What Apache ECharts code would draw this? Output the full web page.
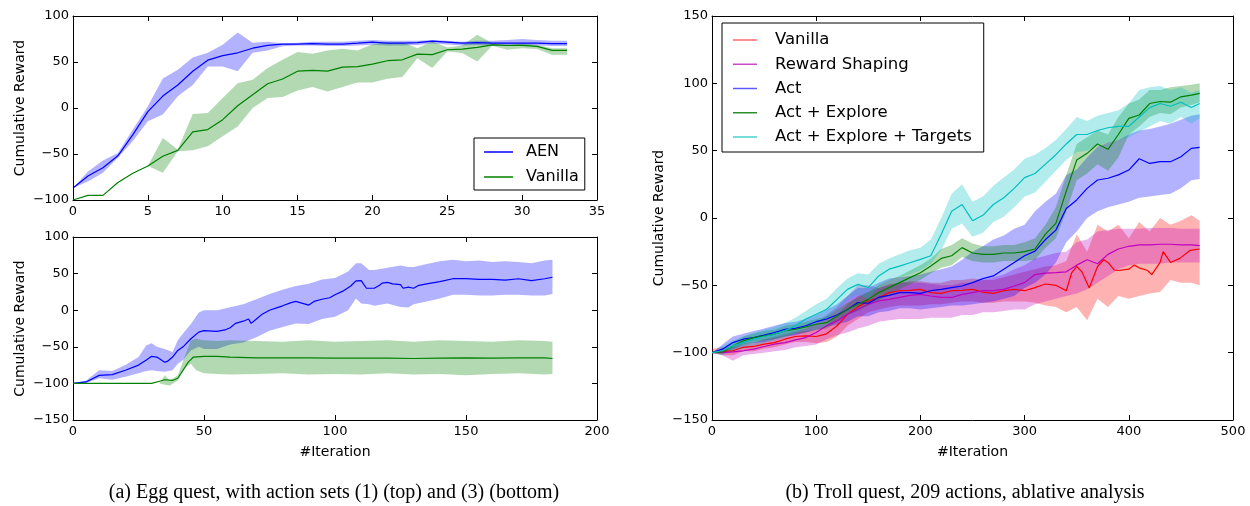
<!DOCTYPE html>
<html>
<head>
<meta charset="utf-8">
<script src="https://cdn.jsdelivr.net/npm/echarts@6/dist/echarts.min.js"></script>
<style>
html,body{margin:0;padding:0;background:#fff;}
#c{width:1250px;height:506px;}
</style>
</head>
<body>
<div id="c"></div>
<script>
// ---------- (a) top: Egg quest, action set (1) ----------
const eggTopX = [0,1,2,3,4,5,6,7,8,9,10,11,12,13,14,15,16,17,18,19,20,21,22,23,24,25,26,27,28,29,30,31,32,33];
const aenTop   = [-87,-74,-65,-52,-29,-4,13,25,40,52,57,60,65,68,69.5,69.5,70,69.5,69.5,70.5,71.6,70.5,70.5,71,72.7,71.6,70.5,71,70.5,70.5,70.5,70.5,70,70];
const aenTopHi = [-87,-69,-57,-49,-23.5,2,32,41.6,55,60,68.7,82,71,72,70.5,71,72,72,72,73,74,73,73,73,74,73,72,73,73,74,75,74,73,73];
const aenTopLo = [-87,-80,-70.5,-54,-36,-14.5,-7,12.7,25,45,45,40,60,62.5,67,68,68,67.5,67.5,68,68.7,68,68,68.5,70,69,68,68.5,68,68,68,68,67.5,67.5];
const vanTop   = [-100,-95,-95,-81,-71,-63,-52.5,-46,-26,-23.5,-12.7,2.5,14.5,26.4,31.5,40,41,40,44.5,45,47.7,51.4,52.4,58.6,58,63.3,64,65.8,68.7,68,68,67,62.6,62.6];
const vanTopHi = [-100,-95,-95,-81,-71,-63,-32.5,-45,-6.5,-5.4,11,27,30.7,43.4,52.4,61,59,62.6,64.4,62.6,69.4,71.6,71.6,65,72.3,65.8,68,79.6,70.5,68,70.5,68.5,65,65];
const vanTopLo = [-100,-95,-95,-81,-71,-63,-70.5,-47,-46,-41.6,-30.7,-20,0,11,12,19,22.8,18,22.8,27.8,27.8,31.8,33.6,54,43.4,61.5,59.7,50.6,67.6,63.3,65,64,58,58];

// ---------- (a) bottom: Egg quest, action set (3) ----------
const aenBotX = [0,5,10,15,20,25,28,30,32,35,36,38,40,42,45,48,50,55,58,60,62,65,67,68,70,72,75,78,80,83,85,88,90,92,95,98,100,103,106,108,110,112,115,117,118,120,122,125,126,128,130,132,135,140,145,150,155,160,165,170,175,180,183];
const aenBot  = [-100,-98,-89,-88,-82,-75,-68,-63,-64,-71,-70,-64,-55,-50,-39,-30,-28,-29,-27,-24,-18,-15,-12,-18,-12,-6,0,3.6,6,10,12,9,7,12,15,17,21,26,33,40,40.5,30,30,34,37,38,36,35,30,31.5,30,34,36,39,43,43,42,42,41,43,40.5,43,45];
const aenBotBandX = [0,5,10,15,20,25,28,30,32,35,38,40,42,45,48,50,55,60,65,70,75,80,85,90,95,100,105,108,110,113,115,120,125,128,130,135,140,145,150,155,160,165,170,175,180,183];
const aenBotHi = [-100,-96,-82,-83,-75,-64,-48,-45,-50,-53,-57,-41,-32,-19,-3,0,0,4,8,15,22,28,33,36,42,44,53,64,64,55,55,58,61,59,59,63,67,69,67,68,66,67,66,64,68,69];
const aenBotLo = [-100,-99.5,-93,-95,-91,-86,-83,-82,-83,-84,-82,-73,-68,-55,-50,-53,-53,-47,-44,-37,-28,-23,-18,-19,-12,-9,0,16,9,8,6,9,4.5,3.6,8,12,16,21,21,20,20,21,21,20,20,22];
const vanBotX = [0,30,33,35,38,40,42,44,46,50,55,60,70,80,90,100,110,120,130,140,150,160,170,180,183];
const vanBot  = [-100,-100,-97,-95,-96,-93,-82,-71,-64,-63,-63,-64,-65,-65,-65,-65.5,-65.5,-65.5,-66,-65.5,-65,-65.5,-65,-65,-66];
const vanBotBandX = [0,33,35,37,40,43,45,47,50,55,60,70,80,90,100,110,120,130,140,150,160,170,180,183];
const vanBotHi = [-100,-100,-89,-96,-89,-60,-41,-39,-41,-42,-41,-42,-43,-41,-43,-42,-41,-43,-41,-42,-43,-41,-42,-43];
const vanBotLo = [-100,-100,-102,-103,-96,-78,-73,-82,-86,-87,-88,-87,-86,-88,-87,-88,-86,-88,-87,-89,-87,-86,-88,-87];

// ---------- (b) Troll quest ----------
const trollX = [0,10,20,30,40,50,60,70,80,90,100,110,120,130,140,150,160,170,180,190,200,210,220,230,240,250,260,270,280,290,300,310,320,330,340,350,360,370,380,390,400,410,420,430,440,450,460,468];
const vanillaX = [0,10,20,30,40,50,60,70,80,90,100,110,120,130,140,150,160,170,180,190,200,210,220,230,240,250,260,270,280,290,300,310,320,330,340,345,350,355,362,370,376,380,386,390,400,405,410,418,422,430,433,440,449,459,468];
const vanilla = [-100,-99,-98.6,-96,-95.4,-93.7,-92.5,-90,-88,-87.5,-88,-86,-80,-71.5,-66,-61.6,-59,-55.4,-54,-53.7,-53,-55.4,-56,-54,-53.7,-53,-55,-56,-54,-53,-54,-51.7,-49,-50,-54,-41,-36,-40,-52,-36,-31,-33,-38.6,-39,-38,-35,-37,-39,-42,-33,-25,-33,-30,-24,-23];
const vanillaHi = [-97,-96,-95,-93,-92,-90,-89,-87,-85,-84,-83,-80,-72,-64,-58,-55,-52,-49,-48,-47,-47,-48,-48,-46,-46,-45,-46,-46,-44,-42,-40,-38,-36,-35,-32,-12,-25,-5,-10,-5,-15,-3,-10,0,-5,-2,2,-2];
const vanillaLo = [-100,-102,-102,-99,-99,-97,-96,-94,-92,-92,-93,-92,-88,-80,-75,-70,-68,-66,-65,-65,-65,-64,-64,-63,-62,-62,-63,-63,-62,-62,-62,-63,-65,-66,-70,-66,-76,-60,-66,-58,-60,-58,-56,-55,-46,-48,-48,-50];
const shaping = [-100,-100,-99.4,-98.6,-97.4,-95.4,-93.7,-92.5,-90.5,-88.8,-85,-80,-76.4,-71.5,-67.8,-64,-61.6,-60.4,-59,-57.4,-56.7,-57.9,-59,-59,-56.7,-55.4,-54,-54,-53,-50.5,-48,-42,-41,-40.6,-40,-35,-31,-34,-27,-23,-21,-20,-20,-19.5,-19.5,-20,-20,-20.5];
const shapingHi = [-100,-98,-96,-95,-93,-90,-88,-86,-84,-82,-78,-72,-66,-58,-50,-50,-52,-50,-48,-48,-48,-49,-50,-50,-48,-48,-46,-44,-42,-38,-35,-30,-28,-26,-25,-18,-16,-10,-9,-8,-8,-8,-7.5,-7.5,-7.5,-8,-8,-8];
const shapingLo = [-100,-102,-106,-102,-101,-100,-99,-98,-96,-95,-94,-90,-87,-85,-82,-80,-77,-76,-75,-75,-75,-74,-74,-74,-72,-72,-70,-70,-69,-68,-68,-64,-62,-60,-58,-56,-53,-48,-43,-38,-35,-34,-34,-34,-33,-33,-33,-33];
const act = [-100,-97.4,-92.5,-90,-88.8,-87,-85,-82.6,-82,-80,-77,-75,-72,-68,-62.8,-63.3,-59,-57.4,-55.4,-55.4,-56,-54,-53,-51.7,-50.5,-48,-45,-43,-38,-33,-28,-24.6,-16,-9,7,13.4,22,28.2,29.5,32,35.6,44,40.5,41.8,41.8,45.5,51.7,52.5];
const actHi = [-100,-94,-88,-86,-84,-82,-80,-78,-77,-75,-72,-68,-64,-58,-52,-52,-48,-45,-44,-43,-42,-40,-38,-36,-31,-25,-21,-16,-13,-8,-5,5,12,18,32,36,45,53,56,58,62,65,66,68,70,73,76,77];
const actLo = [-100,-100,-97,-95,-93,-92,-90,-88,-87,-85,-83,-81,-79,-77,-73,-73,-70,-69,-67,-67,-68,-67,-66,-65,-65,-64,-63,-62,-60,-58,-52,-48,-42,-33,-18,-10,0,5,8,10,12,15,16,17,18,22,28,29];
const actExplore = [-100,-99.4,-95,-91.2,-88.8,-87.5,-86.3,-83.8,-82.6,-80.9,-78.9,-77.7,-72.7,-67.8,-64,-60.4,-55.4,-51.7,-48,-44.3,-40.6,-35.7,-30,-28,-22,-26,-27,-27,-26,-26,-25,-23,-12,-4,20,43,48,55,51,62,74,76.5,85,86.5,86,90,91.3,92.5];
const actExploreHi = [-100,-97,-92,-88,-86,-84,-83,-80,-79,-77,-75,-73,-68,-63,-59,-55,-50,-46,-43,-39,-35,-30,-23,-20,-15,-19,-21,-21,-20,-20,-18,-15,-5,8,32,55,60,65,62,75,85,88,95,95,97,98,99,100];
const actExploreLo = [-100,-101,-98,-94,-92,-91,-90,-88,-86,-85,-83,-82,-77,-72,-69,-65,-61,-57,-53,-49,-46,-41,-37,-35,-29,-32,-33,-33,-32,-32,-32,-31,-22,-15,5,28,33,40,35,45,62,68,75,78,77,82,84,86];
const targets = [-100,-98.6,-95,-92.5,-90,-88,-86.3,-83.8,-80,-75,-71.5,-67.8,-60.4,-53,-49.3,-51.7,-43,-38,-35.7,-33.2,-30.7,-28,-12,5,10,-2,2,10,15,22,30,33,40,47,55,62,62,65,67,68,68,75,82,85,83,86,82,85];
const targetsHi = [-100,-95,-91,-88,-85,-83,-81,-78,-74,-69,-64,-60,-52,-45,-41,-42,-34,-30,-27,-24,-22,-16,0,18,25,12,16,24,30,36,44,47,52,58,66,75,72,76,78,80,85,95,97,98,95,97,93,95];
const targetsLo = [-100,-102,-99,-97,-95,-93,-91,-89,-86,-81,-78,-75,-68,-61,-57,-60,-51,-46,-44,-42,-39,-34,-24,-8,-4,-14,-11,-3,1,8,16,19,27,35,43,49,50,54,56,58,60,64,68,72,70,75,70,74];

// ---------- ticks and labels ----------
const eggTopXTicks = {min: 0, max: 35, interval: 5};
const eggTopYTicks = {min: -100, max: 100, interval: 50};
const eggBotXTicks = {min: 0, max: 200, interval: 50};
const eggBotYTicks = {min: -150, max: 100, interval: 50};
const trollXTicks = {min: 0, max: 500, interval: 100};
const trollYTicks = {min: -150, max: 150, interval: 50};
const yName = 'Cumulative Reward';
const xName = '#Iteration';
const captionA = '(a) Egg quest, with action sets (1) (top) and (3) (bottom)';
const captionB = '(b) Troll quest, 209 actions, ablative analysis';
const legendTop = ['AEN', 'Vanilla'];
const legendTroll = ['Vanilla', 'Reward Shaping', 'Act', 'Act + Explore', 'Act + Explore + Targets'];

// ---------- styling ----------
const C = {blue:'#0000ff', green:'#008000', red:'#ff0000', mag:'#bf00bf', cyan:'#00bfbf'};
const BAND = {blue:'rgba(0,0,255,0.3)', green:'rgba(0,128,0,0.3)', red:'rgba(255,0,0,0.3)', mag:'rgba(191,0,191,0.3)', cyan:'rgba(0,191,191,0.3)'};
const FONT = 'DejaVu Sans';
const minus = v => String(v).replace('-', '\u2212');

function xAxes(gi, t, withName) {
  const base = {gridIndex: gi, type: 'value', min: t.min, max: t.max, interval: t.interval,
    splitLine: {show: false}, axisLine: {show: true, onZero: false, lineStyle: {color: '#000', width: 1}},
    axisTick: {show: true, inside: true, length: 5, lineStyle: {color: '#000'}}};
  return [
    Object.assign({}, base, {position: 'bottom',
      axisLabel: {show: true, margin: 5, color: '#000', fontFamily: FONT, fontSize: 13, formatter: minus, showMinLabel: true, showMaxLabel: true},
      name: withName ? xName : '', nameLocation: 'middle', nameGap: 25,
      nameTextStyle: {color: '#000', fontFamily: FONT, fontSize: 14}}),
    Object.assign({}, base, {position: 'top', axisLabel: {show: false}})
  ];
}
function yAxes(gi, t) {
  const base = {gridIndex: gi, type: 'value', min: t.min, max: t.max, interval: t.interval,
    splitLine: {show: false}, axisLine: {show: true, onZero: false, lineStyle: {color: '#000', width: 1}},
    axisTick: {show: true, inside: true, length: 5, lineStyle: {color: '#000'}}};
  return [
    Object.assign({}, base, {position: 'left',
      axisLabel: {show: true, margin: 4, color: '#000', fontFamily: FONT, fontSize: 13, formatter: minus, showMinLabel: true, showMaxLabel: true},
      name: yName, nameLocation: 'middle', nameGap: 46, nameRotate: 90,
      nameTextStyle: {color: '#000', fontFamily: FONT, fontSize: 14}}),
    Object.assign({}, base, {position: 'right', axisLabel: {show: false}})
  ];
}

function band(xs, lo, hi, color, ai, z) {
  return {
    type: 'custom', xAxisIndex: ai, yAxisIndex: ai, silent: true, z: z, animation: false,
    data: xs.map((x, i) => [x, lo[i], hi[i]]),
    encode: {x: 0, y: [1, 2]},
    renderItem: function (params, api) {
      if (params.dataIndex !== 0) return null;
      const pts = [];
      for (let i = 0; i < xs.length; i++) pts.push(api.coord([xs[i], hi[i]]));
      for (let i = xs.length - 1; i >= 0; i--) pts.push(api.coord([xs[i], lo[i]]));
      return {type: 'polygon', shape: {points: pts}, style: {fill: color, stroke: null}};
    }
  };
}
function line(name, xs, ys, color, ai, z) {
  return {
    type: 'line', name: name, xAxisIndex: ai, yAxisIndex: ai, z: z, animation: false,
    data: xs.map((x, i) => [x, ys[i]]), showSymbol: false, symbol: 'none',
    lineStyle: {color: color, width: 1.2}, itemStyle: {color: color}
  };
}

const chart = echarts.init(document.getElementById('c'), null, {renderer: 'canvas'});
const tA = xAxes(0, eggTopXTicks, false), bA = xAxes(1, eggBotXTicks, true), rA = xAxes(2, trollXTicks, true);
const tY = yAxes(0, eggTopYTicks), bY = yAxes(1, eggBotYTicks), rY = yAxes(2, trollYTicks);

chart.setOption({
  animation: false,
  backgroundColor: '#fff',
  textStyle: {fontFamily: FONT},
  grid: [
    {left: 73, top: 16, width: 524, height: 184},
    {left: 73, top: 237, width: 524, height: 183},
    {left: 712, top: 16, width: 521, height: 404}
  ],
  xAxis: [tA[0], tA[1], bA[0], bA[1], rA[0], rA[1]],
  yAxis: [tY[0], tY[1], bY[0], bY[1], rY[0], rY[1]],
  legend: [
    {
      data: [
        {name: legendTop[0], itemStyle: {color: C.blue}},
        {name: legendTop[1], itemStyle: {color: C.green}}
      ],
      orient: 'vertical', left: 474, top: 138, padding: [5, 6, 4, 10],
      icon: 'rect', itemWidth: 29, itemHeight: 1.5, itemGap: 7,
      borderColor: '#000', borderWidth: 1, backgroundColor: '#fff', borderRadius: 0,
      textStyle: {fontFamily: FONT, fontSize: 16, color: '#000', lineHeight: 18, padding: [0, 0, 0, 8]},
      selectedMode: false
    },
    {
      data: [
        {name: legendTroll[0], itemStyle: {color: '#ff6a6a'}},
        {name: legendTroll[1], itemStyle: {color: '#c84ac8'}},
        {name: legendTroll[2], itemStyle: {color: '#5a5aff'}},
        {name: legendTroll[3], itemStyle: {color: '#2a902a'}},
        {name: legendTroll[4], itemStyle: {color: '#4ad0d0'}}
      ],
      orient: 'vertical', left: 722, top: 23, padding: [8, 12, 6, 11],
      icon: 'rect', itemWidth: 24, itemHeight: 1.5, itemGap: 6.25,
      borderColor: '#000', borderWidth: 1, backgroundColor: '#fff', borderRadius: 0,
      textStyle: {fontFamily: FONT, fontSize: 16.5, color: '#000', lineHeight: 18, padding: [0, 0, 0, 13]},
      selectedMode: false, z: 10
    }
  ],
  series: [
    band(eggTopX, aenTopLo, aenTopHi, BAND.blue, 0, 1),
    band(eggTopX, vanTopLo, vanTopHi, BAND.green, 0, 1),
    line('AEN', eggTopX, aenTop, C.blue, 0, 2),
    line('Vanilla', eggTopX, vanTop, C.green, 0, 2),

    band(aenBotBandX, aenBotLo, aenBotHi, BAND.blue, 2, 1),
    band(vanBotBandX, vanBotLo, vanBotHi, BAND.green, 2, 1),
    line('AEN ', aenBotX, aenBot, C.blue, 2, 2),
    line('Vanilla ', vanBotX, vanBot, C.green, 2, 2),

    band(trollX, vanillaLo, vanillaHi, BAND.red, 4, 1),
    band(trollX, shapingLo, shapingHi, BAND.mag, 4, 1),
    band(trollX, actLo, actHi, BAND.blue, 4, 1),
    band(trollX, actExploreLo, actExploreHi, BAND.green, 4, 1),
    band(trollX, targetsLo, targetsHi, BAND.cyan, 4, 1),
    line('Vanilla  ', vanillaX, vanilla, C.red, 4, 2),
    line('Reward Shaping', trollX, shaping, C.mag, 4, 2),
    line('Act', trollX, act, C.blue, 4, 2),
    line('Act + Explore', trollX, actExplore, C.green, 4, 2),
    line('Act + Explore + Targets', trollX, targets, C.cyan, 4, 2)
  ],
  graphic: [
    {type: 'text', x: 334, y: 493, style: {text: captionA, font: '20px "Liberation Serif"', fill: '#000', align: 'center', verticalAlign: 'middle'}},
    {type: 'text', x: 965, y: 493, style: {text: captionB, font: '20px "Liberation Serif"', fill: '#000', align: 'center', verticalAlign: 'middle'}}
  ]
});
</script>
</body>
</html>
